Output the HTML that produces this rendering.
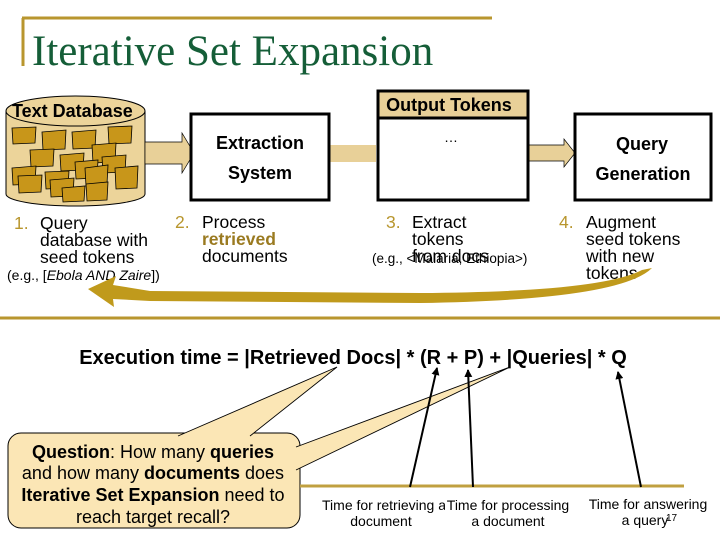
<!DOCTYPE html>
<html><head><meta charset="utf-8"><style>
html,body{margin:0;padding:0;background:#fff;width:720px;height:540px;overflow:hidden}
svg{display:block;font-family:"Liberation Sans",sans-serif}
</style></head><body>
<svg width="720" height="540" viewBox="0 0 720 540">
<defs>
<marker id="ah" markerWidth="8" markerHeight="8" refX="7" refY="4" orient="auto" markerUnits="userSpaceOnUse"><path d="M0,0 L8,4 L0,8 Z" fill="#000"/></marker>
</defs>
<!-- title -->
<line x1="22" y1="18" x2="492" y2="18" stroke="#b8962e" stroke-width="3"/>
<line x1="23" y1="18" x2="23" y2="66" stroke="#b8962e" stroke-width="3"/>
<text x="32" y="65" font-family="Liberation Serif,serif" font-size="43" fill="#155e38">Iterative Set Expansion</text>

<!-- cylinder -->
<path d="M6,111 L6,194 A69.5,12 0 0 0 145,194 L145,111" fill="#ecd49a" stroke="#000" stroke-width="1"/>
<ellipse cx="75.5" cy="111" rx="69.5" ry="15" fill="#ecd49a" stroke="#000" stroke-width="1"/>
<g fill="#c8961a" stroke="#000" stroke-width="0.8">
<path d="M12,128 L36,127 L35,143 L13,144Z"/><path d="M42,132 L66,130 L65,149 L43,150Z"/>
<path d="M72,132 L96,130 L95,148 L73,149Z"/><path d="M108,127 L132,126 L131,143 L109,144Z"/>
<path d="M30,150 L54,149 L53,166 L31,167Z"/><path d="M92,145 L116,143 L115,162 L93,163Z"/>
<path d="M60,155 L84,153 L83,170 L61,171Z"/><path d="M102,157 L126,155 L125,172 L103,173Z"/>
<path d="M75,162 L98,160 L97,178 L76,179Z"/><path d="M12,168 L36,166 L35,184 L13,185Z"/>
<path d="M18,176 L42,175 L41,192 L19,193Z"/><path d="M45,172 L69,171 L68,188 L46,189Z"/>
<path d="M50,180 L74,178 L73,196 L51,197Z"/><path d="M85,168 L108,165 L107,184 L86,186Z"/>
<path d="M62,188 L85,186 L84,201 L63,202Z"/><path d="M86,184 L108,182 L107,200 L87,201Z"/>
<path d="M115,168 L138,166 L137,188 L116,189Z"/>
</g>
<text x="12" y="117" font-size="18" font-weight="bold">Text Database</text>

<!-- block arrows -->
<path d="M145,142 L182,142 L182,133 L194,153 L182,173 L182,164 L145,164Z" fill="#e8d098" stroke="#000" stroke-width="0.7"/>
<path d="M330,145 L376,145 L376,162 L330,162Z" fill="#e8d098"/>
<path d="M528,145 L564,145 L564,139 L575,153 L564,167 L564,161 L528,161Z" fill="#e8d098" stroke="#000" stroke-width="0.7"/>

<!-- extraction -->
<rect x="191" y="114" width="138" height="86" fill="#fff" stroke="#000" stroke-width="3"/>
<text x="260" y="149" font-size="18" font-weight="bold" text-anchor="middle">Extraction</text>
<text x="260" y="179" font-size="18" font-weight="bold" text-anchor="middle">System</text>

<!-- output tokens -->
<rect x="378" y="91" width="150" height="109" fill="#fff" stroke="#000" stroke-width="3"/>
<rect x="378" y="91" width="150" height="27" fill="#e8d098" stroke="#000" stroke-width="3"/>
<text x="449" y="111" font-size="18" font-weight="bold" text-anchor="middle">Output Tokens</text>
<text x="451" y="142" font-size="14" text-anchor="middle">…</text>

<!-- query generation -->
<rect x="575" y="114" width="136" height="86" fill="#fff" stroke="#000" stroke-width="3"/>
<text x="642" y="150" font-size="18" font-weight="bold" text-anchor="middle">Query</text>
<text x="643" y="180" font-size="18" font-weight="bold" text-anchor="middle">Generation</text>

<!-- step labels -->
<g font-size="17.5">
<text x="14" y="229" fill="#b8962e">1.</text>
<text x="40" y="229">Query</text><text x="40" y="246">database with</text><text x="40" y="263">seed tokens</text>
<text x="7" y="280" font-size="14">(e.g., [<tspan font-style="italic">Ebola AND Zaire</tspan>])</text>
<text x="175" y="228" fill="#b8962e">2.</text>
<text x="202" y="228">Process</text><text x="202" y="245" fill="#9a7a20" font-weight="bold">retrieved</text><text x="202" y="262">documents</text>
<text x="386" y="228" fill="#b8962e">3.</text>
<text x="412" y="228">Extract</text><text x="412" y="245">tokens</text>
<text x="372" y="263" font-size="13.5">(e.g., &lt;Malaria, Ethiopia&gt;)</text>
<text x="412" y="262">from docs</text>
<text x="559" y="228" fill="#b8962e">4.</text>
<text x="586" y="228">Augment</text><text x="586" y="245">seed tokens</text><text x="586" y="262">with new</text><text x="586" y="279">tokens</text>
</g>

<!-- curved return arrow -->
<path d="M642,270 Q600,292 420,293 L150,291 L113,285 L116,276 L88,289 L114,307 L113,299 L150,301 L420,303 Q620,300 652,268 Z" fill="#c09a1c"/>

<!-- separator -->
<line x1="0" y1="318" x2="720" y2="318" stroke="#b8962e" stroke-width="3"/>

<text x="353" y="364" font-size="20" font-weight="bold" text-anchor="middle">Execution time = |Retrieved Docs| * (R + P) + |Queries| * Q</text>

<!-- callout -->
<rect x="8" y="433" width="292" height="95" rx="13" fill="#fbe6b5" stroke="#000" stroke-width="1"/>
<path d="M250,436 L337,367 L178,436" fill="#fbe6b5" stroke="#000" stroke-width="0.9"/>
<path d="M296,447 L510,367 L296,470" fill="#fbe6b5" stroke="#000" stroke-width="0.9"/>
<g font-size="18" text-anchor="middle">
<text x="153" y="458"><tspan font-weight="bold">Question</tspan>: How many <tspan font-weight="bold">queries</tspan></text>
<text x="153" y="479">and how many <tspan font-weight="bold">documents</tspan> does</text>
<text x="153" y="501"><tspan font-weight="bold">Iterative Set Expansion</tspan> need to</text>
<text x="153" y="523">reach target recall?</text>
</g>

<!-- bottom line and arrows -->
<line x1="300" y1="486" x2="684" y2="486" stroke="#c0a040" stroke-width="3"/>
<g stroke="#000" stroke-width="2" marker-end="url(#ah)">
<line x1="410" y1="487" x2="437" y2="368"/>
<line x1="473" y1="487" x2="468" y2="370"/>
<line x1="641" y1="487" x2="618" y2="372"/>
</g>
<g font-size="14" text-anchor="middle">
<text x="384" y="510">Time for retrieving a</text>
<rect x="445" y="497" width="124" height="16" fill="#fff"/>
<text x="381" y="526">document</text>
<text x="508" y="510">Time for processing</text>
<text x="508" y="526">a document</text>
<text x="648" y="509">Time for answering</text>
<text x="645" y="525">a query</text>
</g>
<text x="666" y="521" font-size="10">17</text>
</svg>
</body></html>
